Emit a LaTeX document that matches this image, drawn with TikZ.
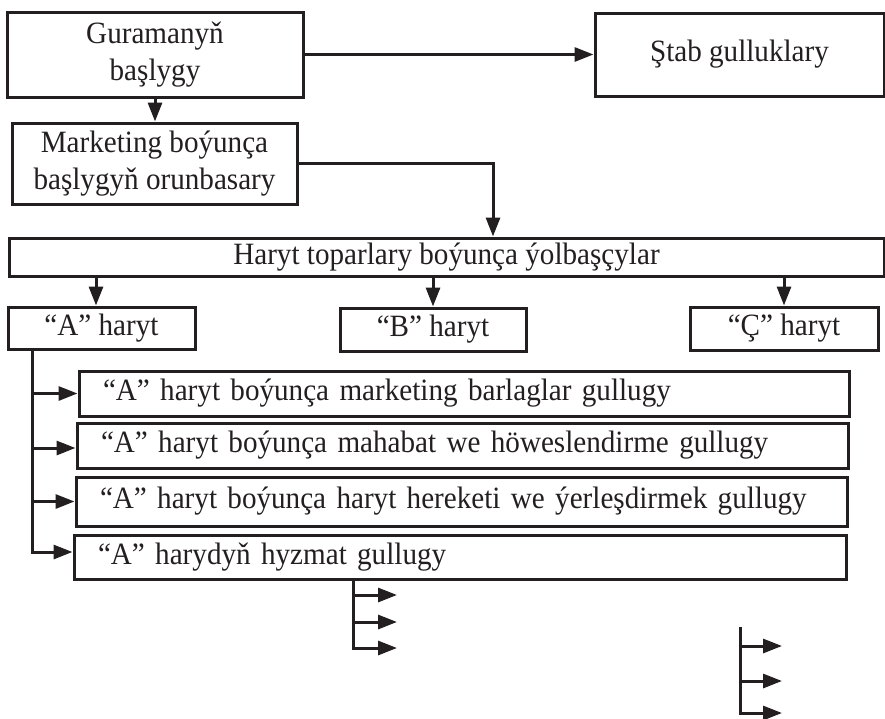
\documentclass[tikz,border=0pt]{standalone}
\usepackage{fontspec}
\setmainfont{Liberation Serif}[FakeStretch=0.94]
\usetikzlibrary{arrows.meta,calc}
\definecolor{ink}{RGB}{35,31,32}
\tikzset{
  box/.style={draw=ink, line width=3pt, text=ink, inner sep=0pt,
    font=\fontsize{31}{37}\selectfont, align=center},
  sub/.style={draw=ink, line width=3pt, text=ink, inner xsep=24pt, inner ysep=0pt,
    font=\fontsize{31}{37}\selectfont, align=left, text width=#1},
  arr/.style={draw=ink, line width=3pt, -{Triangle[length=19pt,width=14pt]}},
  ln/.style={draw=ink, line width=3pt}}
\begin{document}
\begin{tikzpicture}[x=1pt,y=-1pt]
\useasboundingbox (0,0) rectangle (885,718);

\node[box, minimum width=296, minimum height=85] (g) at (155,54.5) {Guramanyň\\başlygy};
\node[box, minimum width=289, minimum height=83] (s) at (739.5,54.5) {Ştab gulluklary};
\node[box, minimum width=285, minimum height=81] (m) at (154.5,163.5) {Marketing boýunça\\başlygyň orunbasary};
\node[box, minimum width=875, minimum height=38] (h) at (446.5,257) {Haryt toparlary boýunça ýolbaşçylar};
\node[box, minimum width=187, minimum height=42] (a) at (101.5,328) {“A” haryt};
\node[box, minimum width=186, minimum height=43] (b) at (433,329.5) {“B” haryt};
\node[box, minimum width=188, minimum height=43] (c) at (784,328.5) {“Ç” haryt};

\node[sub=722, minimum height=45] (s1) at (464,393.5) {“A” haryt boýunça marketing barlaglar gullugy};
\node[sub=723, minimum height=45] (s2) at (462.5,445.5) {“A” haryt boýunça mahabat we höweslendirme gullugy};
\node[sub=723, minimum height=49] (s3) at (461.5,501.5) {“A” haryt boýunça haryt hereketi we ýerleşdirmek gullugy};
\node[sub=724, minimum height=44] (s4) at (460,557) {“A” harydyň hyzmat gullugy};

% top connectors
\draw[arr] (g.east) -- (s.west |- g.east);
\draw[arr] (g.south) -- (m.north -| g.south);
\coordinate (hin) at ([xshift=46.5pt]h.north);
\draw[arr] (m.east) -| (hin);

% haryt to products
\coordinate (atop) at ([xshift=-5.5pt]a.north);
\draw[arr] (h.south -| atop) -- (atop);
\draw[arr] (h.south -| b.north) -- (b.north);
\draw[arr] (h.south -| c.north) -- (c.north);

% spine from A
\coordinate (sp) at ([xshift=-69.5pt]a.south);
\coordinate (s4in) at ([yshift=5pt]s4.west);
\draw[arr] (sp) |- (s4in);
\draw[arr] (s1.west -| sp) -- (s1.west);
\coordinate (s2in) at ([yshift=-2.5pt]s2.west);
\draw[arr] (s2in -| sp) -- (s2in);
\draw[arr] (s3.west -| sp) -- (s3.west);

% group below service box
\coordinate (g1) at ([xshift=-107pt]s4.south);
\coordinate (e1) at (397,595);
\coordinate (e2) at (397,622);
\coordinate (e3) at (397,648);
\draw[arr] (g1) |- (e3);
\draw[arr] (e1 -| g1) -- (e1);
\draw[arr] (e2 -| g1) -- (e2);

% free group bottom right
\coordinate (g2) at (740,627);
\coordinate (f1) at (782,646);
\coordinate (f2) at (782,681);
\coordinate (f3) at (782,713);
\draw[arr] (g2) |- (f3);
\draw[arr] (f1 -| g2) -- (f1);
\draw[arr] (f2 -| g2) -- (f2);
\end{tikzpicture}
\end{document}
